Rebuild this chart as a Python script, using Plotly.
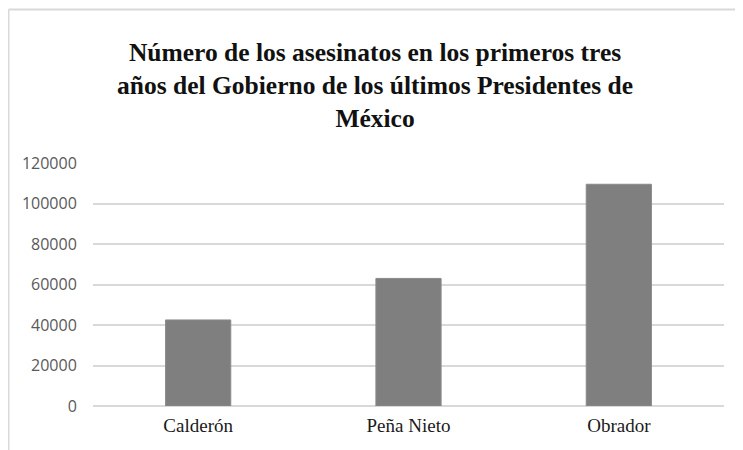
import plotly.graph_objects as go

categories = ["Calderón", "Peña Nieto", "Obrador"]
values = [42500, 63000, 109500]
y_ticks = [0, 20000, 40000, 60000, 80000, 100000, 120000]
title_text = ("Número de los asesinatos en los primeros tres<br>"
              "años del Gobierno de los últimos Presidentes de<br>México")

L, R, T, B = 85, 27, 155, 52
W, H = 743, 450
pw, ph = W - L - R, H - T - B

fig = go.Figure(go.Bar(
    x=categories, y=values,
    marker=dict(color="#7f7f7f", line=dict(color="#8a8a8a", width=1)),
    width=0.31,
))

fig.update_layout(
    width=W, height=H,
    margin=dict(l=L, r=R, t=T, b=B),
    paper_bgcolor="white", plot_bgcolor="white",
    showlegend=False,
    title=dict(
        text=title_text,
        x=0.494, xanchor="center",
        y=1 - 53 / 450, yanchor="middle", yref="container",
        font=dict(family="Liberation Serif", size=25.5, color="#111111", weight="bold"),
    ),
    xaxis=dict(
        showgrid=False, showline=False, zeroline=False,
        tickfont=dict(family="Liberation Serif", size=19, color="#1a1a1a"),
        ticks="outside", ticklen=2, tickcolor="rgba(0,0,0,0)",
    ),
    yaxis=dict(
        range=[0, 120000],
        tickvals=y_ticks,
        ticktext=[str(v) for v in y_ticks],
        showgrid=True, gridcolor="#d9d9d9", gridwidth=1.5,
        zeroline=True, zerolinecolor="#d9d9d9", zerolinewidth=1.5,
        showline=False,
        ticks="outside", ticklen=12, tickcolor="rgba(0,0,0,0)",
        tickfont=dict(family="Open Sans", size=16, color="#595959"),
    ),
    shapes=[
        dict(type="line", xref="paper", yref="paper",
             x0=(0.5 - L) / pw, x1=1.2, y0=1 + (T - 1.5) / ph, y1=1 + (T - 1.5) / ph,
             line=dict(color="#d9d9d9", width=2)),
        dict(type="line", xref="paper", yref="paper",
             x0=(0.5 - L) / pw, x1=(0.5 - L) / pw, y0=-0.5, y1=1 + (T - 1.5) / ph,
             line=dict(color="#d9d9d9", width=2)),
    ],
)

fig.write_html("out.html")
